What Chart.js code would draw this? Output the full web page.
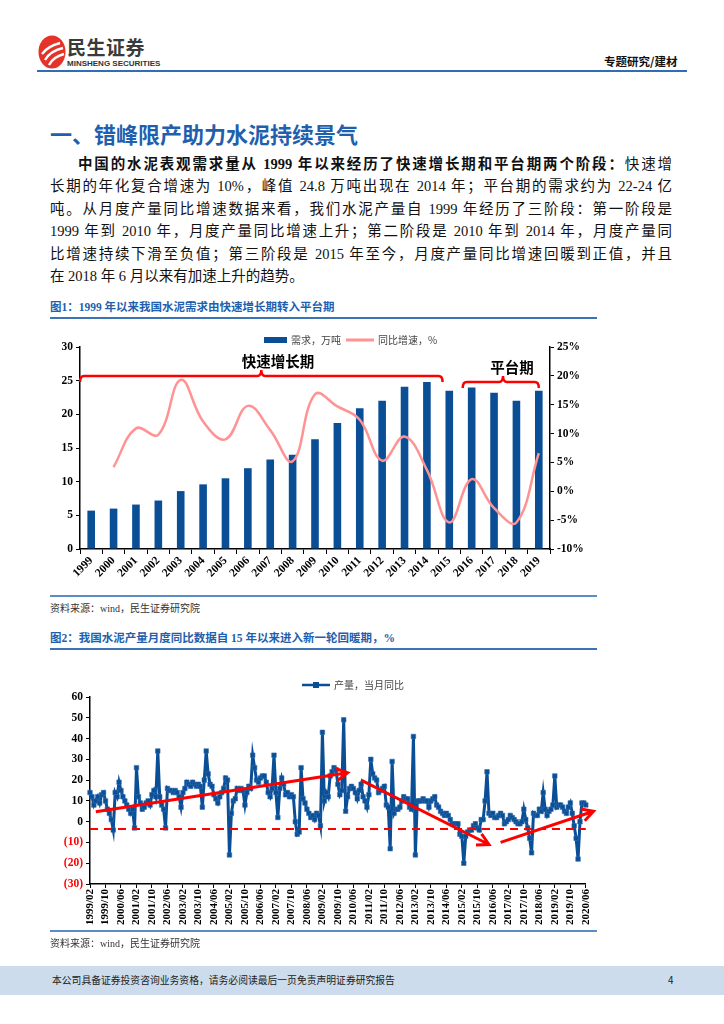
<!DOCTYPE html>
<html lang="zh-CN">
<head>
<meta charset="utf-8">
<title>错峰限产助力水泥持续景气</title>
<script src="https://cdn.jsdelivr.net/npm/chart.js@4.4.1/dist/chart.umd.min.js"></script>
<style>
  html, body { margin: 0; padding: 0; background: #fff; }
  body {
    width: 724px; height: 1024px; position: relative; overflow: hidden;
    font-family: "Liberation Serif", "Noto Sans CJK SC", serif; color: #111;
  }
  .abs { position: absolute; }
  .brand { left: 67px; top: 36px; font: bold 19px/22px "Noto Sans CJK SC", sans-serif; color: #3a3a3a; letter-spacing: 0.5px; }
  .brand-en { left: 67px; top: 59px; font: bold 8px/9px "Liberation Sans", sans-serif; color: #333; }
  .column { left: 604px; top: 54px; font: bold 11.5px/14px "Noto Sans CJK SC", sans-serif; color: #111; }
  .rule-head { left: 37px; top: 70px; width: 650px; height: 2px; background: #2f6db5; }
  .title { left: 50px; top: 121px; font: bold 22px/24px "Noto Sans CJK SC", sans-serif; color: #1f5fad; }
  .line { left: 50px; width: 622px; font-size: 14.5px; line-height: 22px; text-align: justify; text-align-last: justify; white-space: nowrap; }
  .line.last { text-align-last: left; }
  .caption { left: 50px; font: bold 11.5px/14px "Liberation Serif", "Noto Sans CJK SC", serif; color: #1f5fad; }
  .rule-cap { left: 50px; width: 547px; height: 2px; background: #3b74b6; }
  .rule-fig { left: 50px; width: 547px; height: 1.5px; background: #5b8cc8; }
  .source { left: 50px; font-size: 10px; line-height: 12px; color: #333; }
  .chart { left: 40px; }
  .footer { left: 0; top: 966px; width: 724px; height: 29px; background: #ccdcec; }
  .footer span { position: absolute; top: 8px; font: 9.8px/13px "Noto Sans CJK SC", sans-serif; color: #222; }
</style>
</head>
<body>

<svg class="abs" style="left:38px;top:35px" width="28" height="34" viewBox="0 0 28 34">
  <ellipse cx="14" cy="17" rx="13.5" ry="16.5" fill="#e5332a"/>
  <path d="M4 19 Q10 11 22 8" stroke="#fff" stroke-width="2.4" fill="none"/>
  <path d="M7 25 Q12 16 25 13" stroke="#fff" stroke-width="2.4" fill="none"/>
  <path d="M11 30 Q15 22 26 19" stroke="#fff" stroke-width="2.4" fill="none"/>
</svg>
<div class="abs brand">民生证券</div>
<div class="abs brand-en">MINSHENG SECURITIES</div>
<div class="abs column">专题研究/建材</div>
<div class="abs rule-head"></div>

<div class="abs title">一、错峰限产助力水泥持续景气</div>

<div class="abs line" style="top:153px;padding-left:28px;width:594px"><b>中国的水泥表观需求量从 1999 年以来经历了快速增长期和平台期两个阶段：</b>快速增</div>
<div class="abs line" style="top:175px">长期的年化复合增速为 10%，峰值 24.8 万吨出现在 2014 年；平台期的需求约为 22-24 亿</div>
<div class="abs line" style="top:198px">吨。从月度产量同比增速数据来看，我们水泥产量自 1999 年经历了三阶段：第一阶段是</div>
<div class="abs line" style="top:220px">1999 年到 2010 年，月度产量同比增速上升；第二阶段是 2010 年到 2014 年，月度产量同</div>
<div class="abs line" style="top:243px">比增速持续下滑至负值；第三阶段是 2015 年至今，月度产量同比增速回暖到正值，并且</div>
<div class="abs line last" style="top:265px">在 2018 年 6 月以来有加速上升的趋势。</div>

<div class="abs caption" style="top:300px">图1：1999 年以来我国水泥需求由快速增长期转入平台期</div>
<div class="abs rule-cap" style="top:317px"></div>
<div class="abs chart" style="top:325px;width:565px;height:272px"><canvas id="demandChart"></canvas></div>
<div class="abs rule-fig" style="top:595px"></div>
<div class="abs source" style="top:603px">资料来源：wind，民生证券研究院</div>

<div class="abs caption" style="top:631px">图2：我国水泥产量月度同比数据自 15 年以来进入新一轮回暖期，%</div>
<div class="abs rule-cap" style="top:648px"></div>
<div class="abs chart" style="top:660px;width:560px;height:280px"><canvas id="outputChart"></canvas></div>
<div class="abs rule-fig" style="top:930px"></div>
<div class="abs source" style="top:938px">资料来源：wind，民生证券研究院</div>

<div class="abs footer">
  <span style="left:52px">本公司具备证券投资咨询业务资格，请务必阅读最后一页免责声明证券研究报告</span>
  <span style="left:668px">4</span>
</div>

<script>
// 图1：年度需求（万吨）与同比增速（%）
const years = ['1999', '2000', '2001', '2002', '2003', '2004', '2005', '2006', '2007', '2008', '2009',
               '2010', '2011', '2012', '2013', '2014', '2015', '2016', '2017', '2018', '2019'];
const demand = [5.7, 6.0, 6.6, 7.2, 8.6, 9.6, 10.5, 12.0, 13.3, 14.0, 16.3,
                18.7, 20.9, 22.0, 24.1, 24.8, 23.5, 24.0, 23.2, 22.0, 23.5];
const demandGrowth = [null, 4.2, 10.9, 9.8, 19.3, 12.1, 9.0, 14.8, 10.6, 5.2, 16.8,
                      14.7, 12.4, 5.3, 9.5, 3.7, -5.4, 2.1, -2.9, -5.4, 6.6];
const demandTicksLeft = [0, 5, 10, 15, 20, 25, 30];
const demandTicksRight = [-10, -5, 0, 5, 10, 15, 20, 25];

// 图2：水泥产量当月同比（%），每行一年：1999 年从 2 月开始，2020 年到 6 月
const firstYear = 1999;
const firstMonth = 2;
const yoyRows = [
  [14, 12, 8, 10, 12, 9, 13, 14, 10, 6, 4],                 // 1999
  [1, -4, 14, 12, 19, 15, 12, 10, 8, 6, 4, 6],              // 2000
  [-3, 26, 12, 9, 6, 7, 9, 10, 8, 13, 15, 12],              // 2001
  [34, 12, 8, 6, -3, 16, 15, 15, 14, 15, 14, 12],           // 2002
  [7, 14, 16, 19, 18, 17, 19, 18, 17, 18, 17, 7],           // 2003
  [20, 34, 23, 18, 17, 13, 11, 9, 12, 14, 16, 21],          // 2004
  [20, -16, 4, 10, 11, 16, 15, 16, 15, 8, 14, 17],          // 2005
  [16, 32, 26, 20, 19, 21, 22, 22, 19, 14, 12, 16],         // 2006
  [32, 14, 2, 16, 21, 18, 13, 14, 12, 13, 12, 0],           // 2007
  [-6, -5, 26, 11, 9, 6, 4, 2, 3, 1, 4, 3],                 // 2008
  [-2, 43, 10, 14, 12, 22, 24, 26, 25, 18, 13, 15],         // 2009
  [49, 5, 12, 16, 17, 16, 14, 11, 15, 18, 12, 10],          // 2010
  [7, 13, 30, 23, 21, 20, 14, 15, 16, 17, 8, 7],            // 2011
  [-13, 29, 4, 6, 6, 7, 10, 12, 11, 11, 7, 6],              // 2012
  [41, -16, 10, 10, 10, 11, 10, 10, 7, 10, 11, 12],         // 2013
  [8, 7, 5, 4, 3, 4, 3, 1, -1, -1, -1, -1],                 // 2014
  [-6, -7, -20, -7, -5, -4, -4, -2, -1, -3, -4, 1],         // 2015
  [1, 10, 24, 4, 3, 4, 2, 2, 3, 4, 3, -1],                  // 2016
  [0, 1, 3, 2, 1, 0, -1, -1, 0, 6, 1, -3],                  // 2017
  [-8, -15, 4, 3, 3, 6, 5, 14, 6, 3, 5, 6],                 // 2018
  [8, 22, 7, 8, 8, 7, 5, 4, 7, 9, 4, -2],                   // 2019
  [-8, -18, 0, 9, 9, 8]                                     // 2020
];
const yoyTicks = [-30, -20, -10, 0, 10, 20, 30, 40, 50, 60];
const labelEvery = 8;   // 横轴每 8 个月标一次

// 标注（数据坐标）
const phaseFast = { from: -0.5, to: 15.7, mid: 7.6, level: 25.7, textX: 8.35, textY: 27.8, text: '快速增长期' };
const phasePlateau = { from: 16.6, to: 20.0, mid: 18.4, level: 24.8, textX: 18.8, textY: 27.0, text: '平台期' };
const baseline = -3.5;
const trendArrows = [
  { from: [3, 4.8], to: [133, 23.5] },
  { from: [140, 20], to: [206, -11] },
  { from: [212, -10], to: [260, 5] }
];

const monthLabels = [];
yoyRows.forEach((row, r) => {
  row.forEach((_, k) => {
    const m = (r === 0 ? firstMonth : 1) + k;
    monthLabels.push((firstYear + r) + '/' + String(m).padStart(2, '0'));
  });
});
const yoy = yoyRows.flat();

const BLUE = '#0a4e96';
const PINK = '#ff9393';
const RED = '#ff0000';
const tickFont = { family: "'Liberation Serif', serif", weight: 'bold', size: 11.5 };

Chart.defaults.font.family = "'Liberation Serif', 'Noto Sans CJK SC', serif";
Chart.defaults.color = '#000';
Chart.defaults.animation = false;
Chart.defaults.plugins.legend.display = false;
Chart.defaults.plugins.tooltip.enabled = false;

function fixedTicks(values) {
  return scale => { scale.ticks = values.map(v => ({ value: v })); };
}

function drawBracket(ctx, x1, x2, xm, yy, hook, peak) {
  const r = 4;
  ctx.beginPath();
  ctx.moveTo(x1, yy + hook);
  ctx.quadraticCurveTo(x1, yy, x1 + r, yy);
  ctx.lineTo(xm - r, yy);
  ctx.quadraticCurveTo(xm, yy, xm, yy - peak);
  ctx.quadraticCurveTo(xm, yy, xm + r, yy);
  ctx.lineTo(x2 - r, yy);
  ctx.quadraticCurveTo(x2, yy, x2, yy + hook);
  ctx.stroke();
}

function drawArrow(ctx, xa, ya, xb, yb) {
  const ang = Math.atan2(yb - ya, xb - xa);
  const w = 13, spread = 0.5;
  ctx.beginPath();
  ctx.moveTo(xa, ya);
  ctx.lineTo(xb, yb);
  ctx.moveTo(xb - w * Math.cos(ang - spread), yb - w * Math.sin(ang - spread));
  ctx.lineTo(xb, yb);
  ctx.lineTo(xb - w * Math.cos(ang + spread), yb - w * Math.sin(ang + spread));
  ctx.stroke();
}

// 图1 的图例和阶段括号
const demandNotes = {
  id: 'demandNotes',
  afterDatasetsDraw(chart) {
    const { ctx, chartArea, scales: { x, y } } = chart;
    const ly = chartArea.top - 7;
    ctx.save();
    ctx.font = "10px 'Noto Sans CJK SC', sans-serif";
    ctx.textBaseline = 'middle';
    ctx.fillStyle = BLUE;
    ctx.fillRect(224, ly - 3, 23, 6);
    ctx.fillStyle = '#444';
    ctx.fillText('需求，万吨', 251, ly);
    ctx.strokeStyle = PINK;
    ctx.lineWidth = 3;
    ctx.beginPath(); ctx.moveTo(306, ly); ctx.lineTo(334, ly); ctx.stroke();
    ctx.fillText('同比增速，%', 338, ly);

    ctx.strokeStyle = RED;
    ctx.lineWidth = 2.5;
    ctx.fillStyle = '#000';
    ctx.font = "bold 14.5px 'Noto Sans CJK SC', sans-serif";
    ctx.textAlign = 'center';
    [phaseFast, phasePlateau].forEach(p => {
      drawBracket(ctx, x.getPixelForValue(p.from), x.getPixelForValue(p.to),
                  x.getPixelForValue(p.mid), y.getPixelForValue(p.level), 6, 6);
      ctx.fillText(p.text, x.getPixelForValue(p.textX), y.getPixelForValue(p.textY));
    });
    ctx.restore();
  }
};

new Chart(document.getElementById('demandChart'), {
  data: {
    labels: years,
    datasets: [
      {
        type: 'line',
        label: '同比增速，%',
        data: demandGrowth,
        yAxisID: 'y1',
        borderColor: PINK,
        borderWidth: 2.5,
        tension: 0.4,
        pointRadius: 0,
        order: 0
      },
      {
        type: 'bar',
        label: '需求，万吨',
        data: demand,
        yAxisID: 'y',
        backgroundColor: BLUE,
        categoryPercentage: 1,
        barPercentage: 0.34,
        order: 1
      }
    ]
  },
  options: {
    responsive: true,
    maintainAspectRatio: false,
    layout: { padding: { top: 22, left: 0, right: 0, bottom: 0 } },
    scales: {
      x: {
        offset: true,
        grid: { drawOnChartArea: false, tickLength: 5, color: '#000', offset: true },
        border: { color: '#000', width: 1.5 },
        ticks: { autoSkip: false, minRotation: 45, maxRotation: 45, font: tickFont, color: '#000', padding: 0 },
        afterFit: s => { s.height = 48; }
      },
      y: {
        position: 'left',
        min: 0, max: 30,
        afterBuildTicks: fixedTicks(demandTicksLeft),
        grid: { drawOnChartArea: false, tickLength: 4, color: '#000' },
        border: { color: '#000', width: 1.5 },
        ticks: { font: tickFont, color: '#000', padding: 3 },
        afterFit: s => { s.width = 40; }
      },
      y1: {
        position: 'right',
        min: -10, max: 25,
        afterBuildTicks: fixedTicks(demandTicksRight),
        grid: { drawOnChartArea: false, tickLength: 4, color: '#000' },
        border: { color: '#000', width: 1.5 },
        ticks: { font: tickFont, color: '#000', padding: 3, callback: v => v + '%' },
        afterFit: s => { s.width = 55; }
      }
    }
  },
  plugins: [demandNotes]
});

// 图2 的图例、基准虚线和趋势箭头
const outputNotes = {
  id: 'outputNotes',
  afterDatasetsDraw(chart) {
    const { ctx, chartArea, scales: { x, y } } = chart;
    const ly = chartArea.top - 12;
    ctx.save();
    ctx.strokeStyle = BLUE;
    ctx.lineWidth = 2.5;
    ctx.beginPath(); ctx.moveTo(262, ly); ctx.lineTo(290, ly); ctx.stroke();
    ctx.fillStyle = BLUE;
    ctx.fillRect(273, ly - 3, 6, 6);
    ctx.fillStyle = '#444';
    ctx.font = "10px 'Noto Sans CJK SC', sans-serif";
    ctx.textBaseline = 'middle';
    ctx.fillText('产量，当月同比', 294, ly);

    ctx.strokeStyle = RED;
    ctx.lineWidth = 2;
    ctx.setLineDash([8, 6]);
    const yb = y.getPixelForValue(baseline);
    ctx.beginPath(); ctx.moveTo(chartArea.left, yb); ctx.lineTo(chartArea.right, yb); ctx.stroke();
    ctx.setLineDash([]);

    ctx.lineWidth = 3;
    trendArrows.forEach(a => {
      drawArrow(ctx, x.getPixelForValue(a.from[0]), y.getPixelForValue(a.from[1]),
                x.getPixelForValue(a.to[0]), y.getPixelForValue(a.to[1]));
    });
    ctx.restore();
  }
};

new Chart(document.getElementById('outputChart'), {
  type: 'line',
  data: {
    labels: monthLabels,
    datasets: [{
      label: '产量，当月同比',
      data: yoy,
      borderColor: BLUE,
      borderWidth: 3,
      pointStyle: 'rect',
      pointRadius: 3.2,
      pointBackgroundColor: BLUE,
      pointBorderColor: '#2f6cae',
      pointBorderWidth: 0.6,
      tension: 0,
      clip: 5
    }]
  },
  options: {
    responsive: true,
    maintainAspectRatio: false,
    layout: { padding: { top: 37, left: 0, right: 10, bottom: 0 } },
    scales: {
      x: {
        offset: false,
        grid: { drawOnChartArea: false, tickLength: 4, color: '#000' },
        border: { color: '#000', width: 1.5 },
        ticks: { autoSkip: false, minRotation: 90, maxRotation: 90, color: '#000', padding: 1,
                 font: { family: "'Liberation Serif', serif", weight: 'bold', size: 11 } },
        afterBuildTicks: s => { s.ticks = s.ticks.filter(t => t.value % labelEvery === 0); },
        afterFit: s => { s.height = 56; }
      },
      y: {
        min: -30, max: 60,
        afterBuildTicks: fixedTicks(yoyTicks),
        grid: { drawOnChartArea: false, tickLength: 4, color: '#000' },
        border: { color: '#000', width: 1.5 },
        ticks: {
          font: tickFont,
          padding: 3,
          color: c => (c.tick && c.tick.value < 0 ? RED : '#000'),
          callback: v => (v < 0 ? '(' + (-v) + ')' : v)
        },
        afterFit: s => { s.width = 50; }
      }
    }
  },
  plugins: [outputNotes]
});
</script>
</body>
</html>
